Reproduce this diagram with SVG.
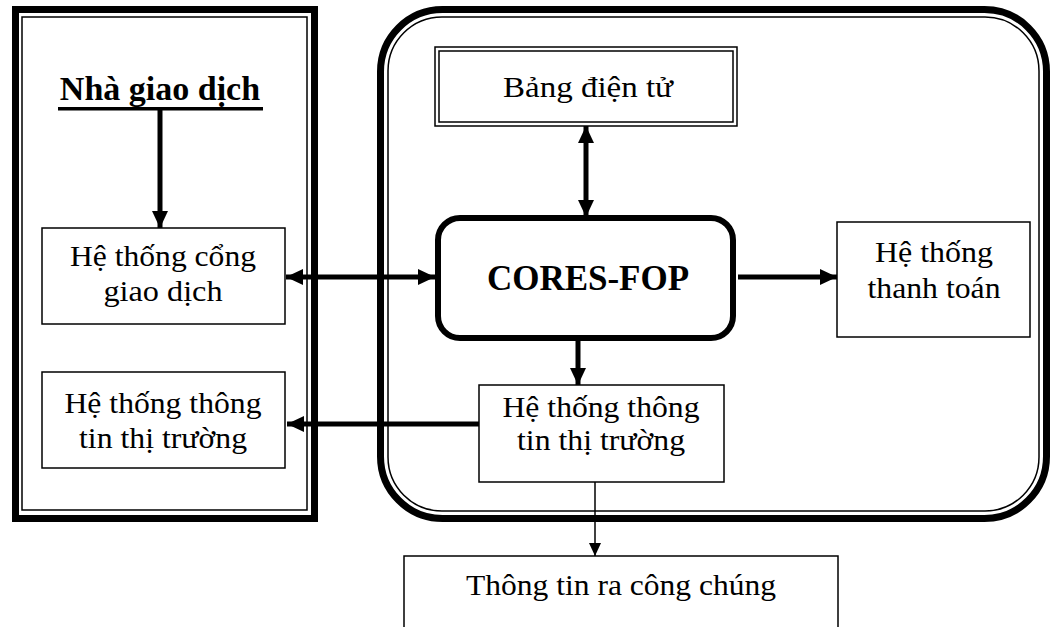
<svg xmlns="http://www.w3.org/2000/svg" width="1054" height="627" viewBox="0 0 1054 627">
<defs>
<style>
.t{font-family:"Liberation Serif","Times New Roman",serif;font-size:29px;fill:#000;text-anchor:middle}
.b{font-weight:bold}
.box{fill:#fff;stroke:#000;stroke-width:1.5}
.thick{fill:none;stroke:#000;stroke-width:7}
.thin{fill:none;stroke:#000;stroke-width:1.5}
.c{fill:none;stroke:#000;stroke-width:5}
.cs{fill:none;stroke:#000;stroke-width:1.5}
</style>
<marker id="ah" markerUnits="userSpaceOnUse" markerWidth="18" markerHeight="16" refX="17" refY="8" orient="auto-start-reverse">
<path d="M0,0 L17,8 L0,16 Z" fill="#000"/>
</marker>
<marker id="ahs" markerUnits="userSpaceOnUse" markerWidth="14" markerHeight="12" refX="13" refY="6" orient="auto">
<path d="M0,0 L13,6 L0,12 Z" fill="#000"/>
</marker>
</defs>
<rect width="1054" height="627" fill="#fff"/>
<g id="left-container">
<rect class="thick" x="15.5" y="9.5" width="299" height="509"/>
<rect class="thin" x="22" y="17" width="285" height="493"/>
</g>
<g id="core-container">
<rect class="thick" x="380.5" y="9.5" width="666" height="509" rx="62"/>
<rect class="thin" x="388" y="17" width="651" height="494" rx="54"/>
</g>
<g id="connectors">
<path class="c" d="M160,110 V228" marker-end="url(#ah)"/>
<path class="c" d="M286,277 H435" marker-start="url(#ah)" marker-end="url(#ah)"/>
<path class="c" d="M586,126 V217" marker-start="url(#ah)" marker-end="url(#ah)"/>
<path class="c" d="M738,277 H837" marker-end="url(#ah)"/>
<path class="c" d="M578,340 V385" marker-end="url(#ah)"/>
<path class="c" d="M479,424 H287" marker-end="url(#ah)"/>
<path class="cs" d="M595,482 V556" marker-end="url(#ahs)"/>
</g>
<g id="nha-giao-dich">
<text class="t b" x="160" y="100" style="font-size:34px">Nhà giao dịch</text>
<rect x="58" y="107" width="205" height="3.5" fill="#000"/>
</g>
<g id="cong-giao-dich">
<rect class="box" x="42" y="228" width="243" height="96"/>
<text class="t" x="163" y="266" textLength="186" lengthAdjust="spacingAndGlyphs">Hệ thống cổng</text>
<text class="t" x="163" y="301" textLength="119" lengthAdjust="spacingAndGlyphs">giao dịch</text>
</g>
<g id="ttt-left">
<rect class="box" x="42" y="372" width="243" height="96"/>
<text class="t" x="163" y="413" textLength="197" lengthAdjust="spacingAndGlyphs">Hệ thống thông</text>
<text class="t" x="163" y="448" textLength="168" lengthAdjust="spacingAndGlyphs">tin thị trường</text>
</g>
<g id="bang-dien-tu">
<rect class="box" x="435" y="47" width="302" height="79"/>
<rect class="thin" x="439" y="51" width="294" height="71"/>
<text class="t" x="588" y="97" textLength="170" lengthAdjust="spacingAndGlyphs">Bảng điện tử</text>
</g>
<g id="cores-fop">
<rect x="438" y="218" width="295" height="120" rx="22" fill="#fff" stroke="#000" stroke-width="6"/>
<text class="t b" x="588" y="290" style="font-size:35px">CORES-FOP</text>
</g>
<g id="thanh-toan">
<rect class="box" x="837" y="222" width="193" height="115"/>
<text class="t" x="934" y="262" textLength="118" lengthAdjust="spacingAndGlyphs">Hệ thống</text>
<text class="t" x="934" y="298" textLength="133" lengthAdjust="spacingAndGlyphs">thanh toán</text>
</g>
<g id="ttt-right">
<rect class="box" x="479" y="385" width="245" height="97"/>
<text class="t" x="601" y="417" textLength="197" lengthAdjust="spacingAndGlyphs">Hệ thống thông</text>
<text class="t" x="601" y="450" textLength="168" lengthAdjust="spacingAndGlyphs">tin thị trường</text>
</g>
<g id="cong-chung">
<path class="box" d="M404,640 V556 H838 V640"/>
<text class="t" x="621" y="595" textLength="310" lengthAdjust="spacingAndGlyphs">Thông tin ra công chúng</text>
</g>
</svg>
